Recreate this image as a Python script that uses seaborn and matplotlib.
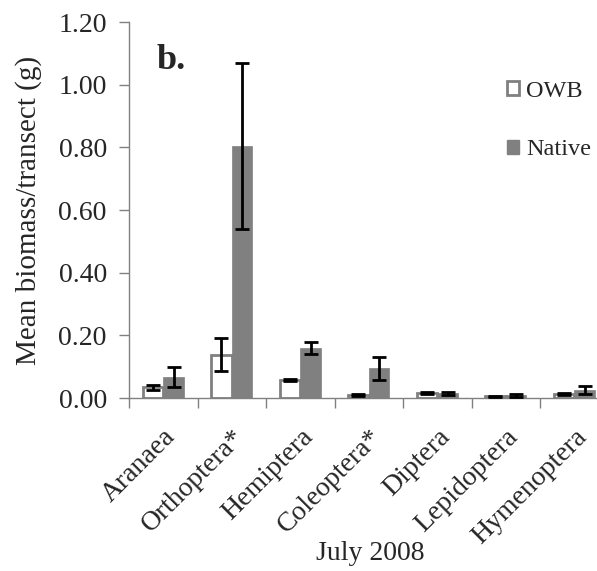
import numpy as np
import pandas as pd
import matplotlib
matplotlib.use("Agg")
import matplotlib.pyplot as plt
import seaborn as sns
from matplotlib.patches import Patch

categories = ["Aranaea", "Orthoptera*", "Hemiptera", "Coleoptera*", "Diptera", "Lepidoptera", "Hymenoptera"]
owb_mean = [0.035, 0.138, 0.057, 0.010, 0.016, 0.005, 0.013]
owb_err = [0.008, 0.053, 0.004, 0.003, 0.004, 0.002, 0.003]
native_mean = [0.067, 0.805, 0.160, 0.095, 0.015, 0.008, 0.025]
native_err = [0.033, 0.265, 0.019, 0.036, 0.004, 0.004, 0.012]
groups = ["OWB", "Native"]
yticks = [0.0, 0.2, 0.4, 0.6, 0.8, 1.0, 1.2]

df = pd.DataFrame({
    "cat": categories * 2,
    "grp": [groups[0]] * len(categories) + [groups[1]] * len(categories),
    "val": owb_mean + native_mean,
})

sns.set_theme(style="white")
plt.rcParams["font.family"] = ["Liberation Serif", "DejaVu Serif"]

fig = plt.figure(figsize=(5.97, 5.71), dpi=100)
W, H = 597, 571
ax = fig.add_axes([129 / W, (H - 398) / H, 479.5 / W, (398 - 22) / H])

gray = "#808080"
sns.barplot(data=df, x="cat", y="val", hue="grp", order=categories, hue_order=groups,
            palette={"OWB": "white", "Native": gray}, width=0.6, errorbar=None,
            ax=ax, legend=False, saturation=1)

for p in ax.patches[:len(categories)]:
    p.set_edgecolor(gray)
    p.set_linewidth(2)
for p in ax.patches[len(categories):2 * len(categories)]:
    p.set_edgecolor(gray)
    p.set_linewidth(0.5)

x = np.arange(len(categories))
ax.errorbar(x - 0.15, owb_mean, yerr=owb_err, fmt="none", ecolor="black",
            elinewidth=2, capsize=5, capthick=2, zorder=5)
ax.errorbar(x + 0.15, native_mean, yerr=native_err, fmt="none", ecolor="black",
            elinewidth=2, capsize=5, capthick=2, zorder=5)

ax.set_xlim(-0.5, len(categories) - 0.5)
ax.set_ylim(0, 1.2)
ax.set_yticks(yticks)
ax.set_yticklabels([f"{t:.2f}" for t in yticks], fontsize=20)

ax.set_xticks(x)
ax.set_xticklabels(categories, rotation=45, ha="right", rotation_mode="anchor", fontsize=20)
ax.tick_params(axis="x", which="major", length=0, pad=19)
ax.set_xticks(np.arange(len(categories) + 1) - 0.5, minor=True)
ax.tick_params(axis="x", which="minor", length=7, width=1, color=gray, direction="out", bottom=True)
ax.tick_params(axis="y", which="major", length=7, width=1, color=gray, direction="out", left=True, pad=9)

for s in ["top", "right"]:
    ax.spines[s].set_visible(False)
for s in ["left", "bottom"]:
    ax.spines[s].set_color(gray)
    ax.spines[s].set_linewidth(1)

ax.set_ylabel("Mean biomass/transect (g)", fontsize=21, labelpad=12)
ax.set_xlabel("July 2008", fontsize=20)
ax.xaxis.set_label_coords((370 - 129) / 479.5, (398 - 541) / 376)

ax.text(0.058, 0.897, "b.", transform=ax.transAxes, fontsize=26, fontweight="bold",
        ha="left", va="center")

handles = [Patch(facecolor="white", edgecolor=gray, linewidth=2, label="OWB"),
           Patch(facecolor=gray, edgecolor=gray, label="Native")]
leg = ax.legend(handles=handles, loc="upper left", bbox_to_anchor=(368 / 479.5, 0.87),
                frameon=False, fontsize=17.5, handlelength=0.5, handleheight=0.5,
                handletextpad=0.3, labelspacing=1.55, borderaxespad=0)

fig.savefig("out.png", dpi=100)
